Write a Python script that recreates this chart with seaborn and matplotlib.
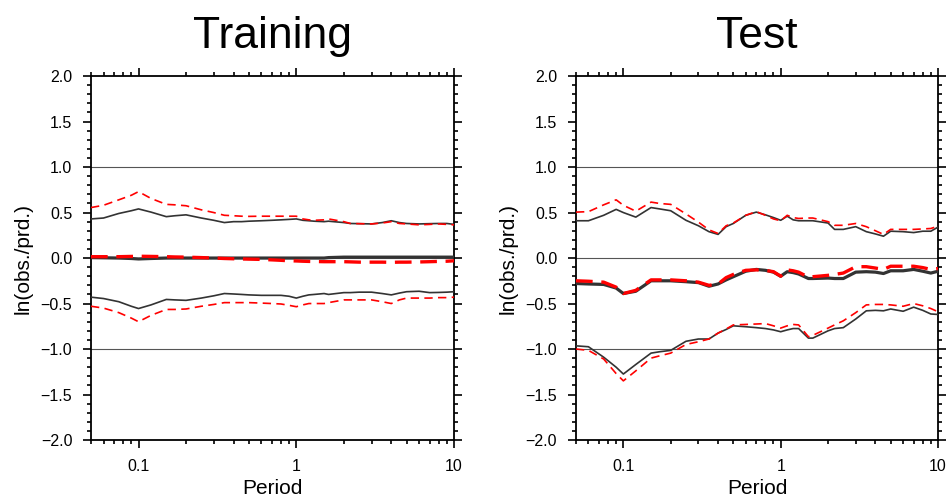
import numpy as np
import pandas as pd
import matplotlib
matplotlib.use("Agg")
import matplotlib.pyplot as plt
from matplotlib.ticker import FixedLocator, NullFormatter, MultipleLocator
import seaborn as sns

# Spectral periods (s)
periods = [0.05, 0.06, 0.075, 0.09, 0.1, 0.12, 0.15, 0.17, 0.2, 0.25, 0.3, 0.35,
           0.4, 0.45, 0.5, 0.6, 0.7, 0.8, 0.9, 1.0, 1.1, 1.2, 1.3, 1.5, 1.6, 2.0,
           2.2, 2.5, 3.0, 3.5, 4.0, 4.5, 5.0, 6.0, 7.0, 8.0, 9.0, 10.0]

# Training set: mean and mean +/- std of ln(obs./prd.)
train_mean_model = [0.005, 0.003, 0.0, -0.005, -0.01, -0.005, 0.0, 0.0, 0.0, 0.0, 0.0, 0.0,
                    0.0, 0.0, 0.0, 0.0, 0.0, 0.0, 0.0, 0.0, 0.0, 0.0, 0.0, 0.0, 0.005, 0.01,
                    0.01, 0.01, 0.01, 0.01, 0.01, 0.01, 0.01, 0.01, 0.01, 0.01, 0.01, 0.01]
train_upper_model = [0.43, 0.44, 0.49, 0.52, 0.54, 0.505, 0.455, 0.465, 0.475, 0.44, 0.415, 0.39,
                     0.40, 0.40, 0.405, 0.41, 0.415, 0.42, 0.425, 0.43, 0.415, 0.41, 0.405, 0.40, 0.405, 0.39,
                     0.38, 0.378, 0.375, 0.39, 0.41, 0.39, 0.38, 0.375, 0.378, 0.38, 0.38, 0.37]
train_lower_model = [-0.43, -0.445, -0.48, -0.53, -0.555, -0.515, -0.455, -0.46, -0.465, -0.44, -0.415, -0.39,
                     -0.395, -0.40, -0.405, -0.41, -0.41, -0.41, -0.42, -0.44, -0.42, -0.405, -0.40, -0.39, -0.40, -0.38,
                     -0.38, -0.375, -0.375, -0.39, -0.405, -0.385, -0.37, -0.365, -0.38, -0.378, -0.375, -0.37]
train_mean_ref = [0.015, 0.015, 0.015, 0.018, 0.02, 0.018, 0.015, 0.012, 0.01, 0.005, 0.0, -0.005,
                  -0.008, -0.01, -0.012, -0.015, -0.02, -0.025, -0.03, -0.032, -0.035, -0.037, -0.038, -0.04, -0.04, -0.04,
                  -0.042, -0.045, -0.045, -0.045, -0.047, -0.045, -0.045, -0.043, -0.04, -0.037, -0.035, -0.03]
train_upper_ref = [0.555, 0.58, 0.64, 0.69, 0.73, 0.655, 0.59, 0.585, 0.575, 0.53, 0.50, 0.47,
                   0.465, 0.46, 0.458, 0.46, 0.46, 0.46, 0.46, 0.46, 0.43, 0.42, 0.415, 0.42, 0.43, 0.40,
                   0.38, 0.378, 0.375, 0.385, 0.40, 0.38, 0.375, 0.365, 0.37, 0.375, 0.37, 0.365]
train_lower_ref = [-0.53, -0.55, -0.60, -0.66, -0.70, -0.63, -0.565, -0.565, -0.56, -0.53, -0.51, -0.49,
                   -0.49, -0.49, -0.49, -0.495, -0.50, -0.505, -0.52, -0.535, -0.515, -0.50, -0.50, -0.50, -0.49, -0.46,
                   -0.46, -0.46, -0.46, -0.48, -0.50, -0.46, -0.44, -0.44, -0.44, -0.435, -0.435, -0.43]

# Test set
test_mean_model = [-0.28, -0.285, -0.29, -0.33, -0.39, -0.365, -0.25, -0.25, -0.25, -0.26, -0.27, -0.31,
                   -0.285, -0.24, -0.205, -0.145, -0.125, -0.135, -0.155, -0.2, -0.15, -0.16, -0.175, -0.225, -0.225, -0.22,
                   -0.225, -0.225, -0.155, -0.15, -0.155, -0.17, -0.14, -0.14, -0.125, -0.145, -0.165, -0.145]
test_upper_model = [0.41, 0.41, 0.47, 0.535, 0.50, 0.45, 0.555, 0.54, 0.52, 0.415, 0.355, 0.29,
                    0.26, 0.345, 0.38, 0.47, 0.505, 0.475, 0.445, 0.415, 0.46, 0.42, 0.41, 0.41, 0.41, 0.385,
                    0.315, 0.315, 0.345, 0.29, 0.265, 0.24, 0.295, 0.29, 0.28, 0.295, 0.295, 0.34]
test_lower_model = [-0.965, -0.975, -1.09, -1.2, -1.275, -1.17, -1.045, -1.03, -1.015, -0.915, -0.89, -0.89,
                    -0.825, -0.785, -0.745, -0.755, -0.765, -0.775, -0.79, -0.81, -0.79, -0.775, -0.775, -0.88, -0.88, -0.80,
                    -0.775, -0.765, -0.67, -0.58, -0.575, -0.58, -0.56, -0.585, -0.54, -0.575, -0.615, -0.62]
test_mean_ref = [-0.25, -0.255, -0.265, -0.32, -0.39, -0.355, -0.24, -0.24, -0.24, -0.25, -0.265, -0.30,
                 -0.285, -0.215, -0.18, -0.135, -0.13, -0.135, -0.15, -0.2, -0.13, -0.14, -0.155, -0.21, -0.205, -0.19,
                 -0.18, -0.165, -0.095, -0.095, -0.11, -0.125, -0.09, -0.09, -0.09, -0.105, -0.125, -0.115]
test_upper_ref = [0.505, 0.51, 0.585, 0.64, 0.58, 0.515, 0.615, 0.60, 0.59, 0.485, 0.395, 0.31,
                  0.27, 0.355, 0.385, 0.47, 0.51, 0.47, 0.43, 0.41, 0.47, 0.445, 0.435, 0.44, 0.44, 0.40,
                  0.36, 0.36, 0.38, 0.345, 0.30, 0.26, 0.315, 0.315, 0.315, 0.32, 0.325, 0.35]
test_lower_ref = [-1.0, -1.015, -1.11, -1.27, -1.35, -1.24, -1.10, -1.075, -1.045, -0.95, -0.92, -0.89,
                  -0.825, -0.78, -0.735, -0.73, -0.725, -0.72, -0.745, -0.77, -0.745, -0.73, -0.735, -0.865, -0.85, -0.77,
                  -0.735, -0.69, -0.60, -0.515, -0.51, -0.51, -0.515, -0.53, -0.50, -0.525, -0.555, -0.59]

panel_titles = ["Training", "Test"]
y_label = "ln(obs./prd.)"
x_label = "Period"

panels = {
    "Training": {
        ("model", "mean"): train_mean_model, ("model", "upper"): train_upper_model,
        ("model", "lower"): train_lower_model, ("ref", "mean"): train_mean_ref,
        ("ref", "upper"): train_upper_ref, ("ref", "lower"): train_lower_ref,
    },
    "Test": {
        ("model", "mean"): test_mean_model, ("model", "upper"): test_upper_model,
        ("model", "lower"): test_lower_model, ("ref", "mean"): test_mean_ref,
        ("ref", "upper"): test_upper_ref, ("ref", "lower"): test_lower_ref,
    },
}

rows = []
for panel, lines in panels.items():
    for (src, kind), vals in lines.items():
        for p, v in zip(periods, vals):
            rows.append({"panel": panel, "source": src, "kind": kind, "period": p, "value": v})
df = pd.DataFrame(rows)

sns.set_theme(style="white")
plt.rcParams["font.family"] = ["Liberation Sans", "DejaVu Sans"]
plt.rcParams["axes.unicode_minus"] = True

fig = plt.figure(figsize=(9.5, 5.04), dpi=100)
ax_l = fig.add_axes([0.0958, 0.127, 0.3822, 0.722])
ax_r = fig.add_axes([0.6063, 0.127, 0.3811, 0.722])

dark = "#333333"
styles = {
    ("model", "mean"): dict(color=dark, lw=2.3, dashes=None),
    ("model", "upper"): dict(color=dark, lw=1.2, dashes=None),
    ("model", "lower"): dict(color=dark, lw=1.2, dashes=None),
    ("ref", "mean"): dict(color="#ff0000", lw=2.4, dashes=(5.0, 2.6)),
    ("ref", "upper"): dict(color="#ff0000", lw=1.2, dashes=(5.0, 3.2)),
    ("ref", "lower"): dict(color="#ff0000", lw=1.2, dashes=(5.0, 3.2)),
}

minor_x = [v * d for d in (0.01, 0.1, 1.0) for v in range(2, 10) if 0.05 <= v * d <= 10]

for ax, title in zip([ax_l, ax_r], panel_titles):
    for yv in (-1.0, 0.0, 1.0):
        ax.axhline(yv, color="#555555", lw=0.8, zorder=1)
    sub = df[df["panel"] == title]
    for key in [("model", "upper"), ("model", "lower"), ("model", "mean"),
                ("ref", "upper"), ("ref", "lower"), ("ref", "mean")]:
        st = styles[key]
        d = sub[(sub["source"] == key[0]) & (sub["kind"] == key[1])]
        line_ax = sns.lineplot(data=d, x="period", y="value", ax=ax, color=st["color"],
                               linewidth=st["lw"], estimator=None, sort=True, zorder=3)
        ln = line_ax.lines[-1]
        if st["dashes"] is not None:
            ln.set_dashes(st["dashes"])
        ln.set_solid_capstyle("butt")
        ln.set_dash_capstyle("butt")

    ax.set_xscale("log")
    ax.set_xlim(0.05, 10)
    ax.set_ylim(-2.0, 2.0)
    ax.xaxis.set_major_locator(FixedLocator([0.1, 1, 10]))
    ax.set_xticklabels(["0.1", "1", "10"])
    ax.xaxis.set_minor_locator(FixedLocator(minor_x))
    ax.xaxis.set_minor_formatter(NullFormatter())
    ax.yaxis.set_major_locator(MultipleLocator(0.5))
    ax.yaxis.set_minor_locator(MultipleLocator(0.1))
    ax.yaxis.set_major_formatter(matplotlib.ticker.FuncFormatter(
        lambda v, _: f"{v:.1f}".replace("-", "\u2212")))
    ax.tick_params(which="both", direction="out", top=True, right=True,
                   bottom=True, left=True, color="black", width=1.2)
    ax.tick_params(which="major", length=5.5, labelsize=11.5, pad=8, labelcolor="black")
    ax.tick_params(which="minor", length=3.2)
    for s in ax.spines.values():
        s.set_color("black")
        s.set_linewidth(1.3)
        s.set_visible(True)
    ax.set_xlabel(x_label, fontsize=15, labelpad=4, color="black")
    ax.set_ylabel(y_label, fontsize=15, labelpad=6, color="black")
    ax.set_title(title, fontsize=32, pad=20, color="black")

fig.savefig("out.png", dpi=100, facecolor="white")
